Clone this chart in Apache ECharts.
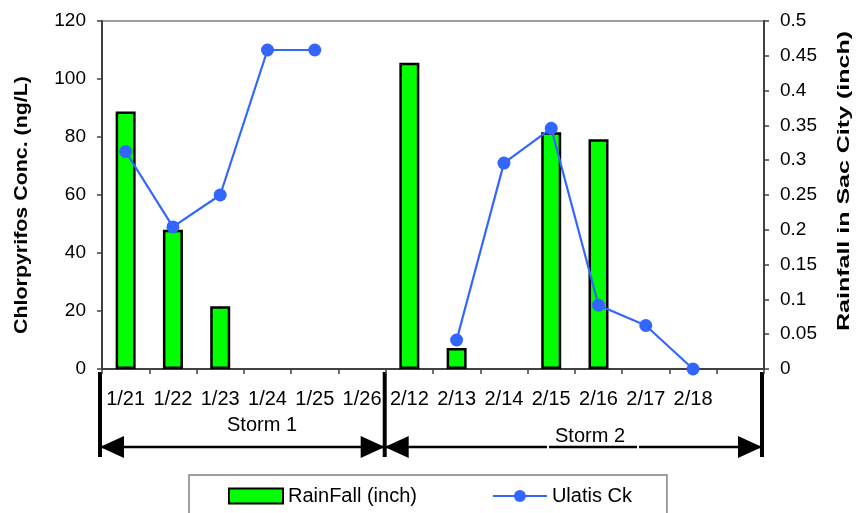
<!DOCTYPE html>
<html>
<head>
<meta charset="utf-8">
<script src="https://cdn.jsdelivr.net/npm/echarts@6/dist/echarts.min.js"></script>
<style>
  html, body { margin: 0; padding: 0; background: #ffffff; }
  #chart { width: 861px; height: 513px; }
</style>
</head>
<body>
<div id="chart"></div>
<script>
// Sampling dates for the two storm events (last slot is an empty spacer)
const categories = ['1/21', '1/22', '1/23', '1/24', '1/25', '1/26',
                    '2/12', '2/13', '2/14', '2/15', '2/16', '2/17', '2/18', ''];
// Daily rainfall in Sacramento (inch), right axis
const rainfall = [0.37, 0.2, 0.09, null, null, null,
                  0.44, 0.03, null, 0.34, 0.33, null, null, null];
// Chlorpyrifos concentration at Ulatis Creek (ng/L), left axis
const ulatisCk = [75, 49, 60, 110, 110, null,
                  null, 10, 71, 83, 22, 15, 0, null];
// Axis ranges
const concAxis = { min: 0, max: 120, interval: 20 };
const rainAxis = { min: 0, max: 0.5, interval: 0.05 };
// Storm spans, given as category index ranges [start, end)
const storms = [
  { name: 'Storm 1', from: 0, to: 6 },
  { name: 'Storm 2', from: 6, to: 14 }
];

const FONT = '"Liberation Sans", Arial, sans-serif';
const W = 861, H = 513;
const plot = { left: 102, right: 764, top: 21, bottom: 369 };
const catW = (plot.right - plot.left) / categories.length;

const chart = echarts.init(document.getElementById('chart'), null, { renderer: 'canvas' });

// Bracket arrows under the date axis marking each storm
function stormGraphics() {
  const els = [];
  const yTop = 372, yBot = 457, yArrow = 447, head = 24, half = 11;
  const edges = [plot.left - 2, plot.left + 6 * catW - 1, plot.right - 2];
  edges.forEach(function (x) {
    els.push({ type: 'rect', shape: { x: x - 2, y: yTop, width: 4, height: yBot - yTop },
               style: { fill: '#000' } });
  });
  const spans = [[edges[0], edges[1]], [edges[1], edges[2]]];
  // Storm 1 arrow line
  els.push({ type: 'line', shape: { x1: spans[0][0], y1: yArrow, x2: spans[0][1], y2: yArrow },
             style: { stroke: '#000', lineWidth: 2.5 } });
  // Storm 2 arrow line, broken slightly around its label
  [[spans[1][0], 547], [549, 637], [639, spans[1][1]]].forEach(function (s) {
    els.push({ type: 'line', shape: { x1: s[0], y1: yArrow, x2: s[1], y2: yArrow },
               style: { stroke: '#000', lineWidth: 2.5 } });
  });
  spans.forEach(function (s) {
    els.push({ type: 'polygon', shape: { points: [[s[0], yArrow], [s[0] + head, yArrow - half], [s[0] + head, yArrow + half]] },
               style: { fill: '#000' } });
    els.push({ type: 'polygon', shape: { points: [[s[1], yArrow], [s[1] - head, yArrow - half], [s[1] - head, yArrow + half]] },
               style: { fill: '#000' } });
  });
  els.push({ type: 'text', x: 262, y: 425,
             style: { text: storms[0].name, font: '20px ' + FONT, fill: '#000', align: 'center', verticalAlign: 'middle' } });
  els.push({ type: 'text', x: 590, y: 436,
             style: { text: storms[1].name, font: '20px ' + FONT, fill: '#000', align: 'center', verticalAlign: 'middle' } });
  return els;
}

// Rotated axis titles
function axisTitles() {
  return [
    { type: 'text', x: 22, y: 205, rotation: Math.PI / 2, scaleX: 1.07, scaleY: 0.95,
      style: { text: 'Chlorpyrifos Conc. (ng/L)', font: 'bold 20px ' + FONT, fill: '#000',
               align: 'center', verticalAlign: 'middle' } },
    { type: 'text', x: 845, y: 181, rotation: Math.PI / 2, scaleX: 1.25, scaleY: 0.78,
      style: { text: 'Rainfall in Sac City (inch)', font: 'bold 20px ' + FONT, fill: '#000',
               align: 'center', verticalAlign: 'middle' } }
  ];
}

const axisLineStyle = { color: '#404040', width: 2 };
const tickStyle = { color: '#404040', width: 1.5 };

chart.setOption({
  animation: false,
  backgroundColor: '#ffffff',
  textStyle: { fontFamily: FONT },
  grid: {
    left: plot.left, right: W - plot.right, top: plot.top, bottom: H - plot.bottom,
    show: true, borderColor: '#808080', borderWidth: 1.5, backgroundColor: 'transparent',
    containLabel: false
  },
  legend: {
    data: [{ name: 'RainFall (inch)', icon: 'rect' }, { name: 'Ulatis Ck' }],
    orient: 'horizontal',
    left: 189, top: 475,
    itemWidth: 54, itemHeight: 15, itemGap: 75,
    padding: [11, 35, 14, 39],
    borderColor: '#808080', borderWidth: 1.5,
    textStyle: { fontSize: 20, color: '#000', fontFamily: FONT }
  },
  xAxis: {
    type: 'category',
    data: categories,
    boundaryGap: true,
    axisLine: { show: true, lineStyle: axisLineStyle },
    axisTick: { show: true, inside: false, length: 5, lineStyle: tickStyle },
    axisLabel: { interval: 0, fontSize: 20, color: '#000', margin: 20, fontFamily: FONT },
    splitLine: { show: false }
  },
  yAxis: [
    {
      type: 'value', position: 'left',
      min: concAxis.min, max: concAxis.max, interval: concAxis.interval,
      axisLine: { show: true, lineStyle: axisLineStyle },
      axisTick: { show: true, inside: false, length: 5, lineStyle: tickStyle },
      axisLabel: { fontSize: 19, color: '#000', margin: 16, fontFamily: FONT },
      splitLine: { show: false }
    },
    {
      type: 'value', position: 'right',
      min: rainAxis.min, max: rainAxis.max, interval: rainAxis.interval,
      axisLine: { show: true, lineStyle: axisLineStyle },
      axisTick: { show: true, inside: false, length: 5, lineStyle: tickStyle },
      axisLabel: { fontSize: 19, color: '#000', margin: 16, fontFamily: FONT },
      splitLine: { show: false }
    }
  ],
  series: [
    {
      name: 'RainFall (inch)',
      type: 'bar',
      yAxisIndex: 1,
      data: rainfall,
      barWidth: 20,
      itemStyle: { color: '#00ff00', borderColor: '#000000', borderWidth: 2.5 },
      z: 2
    },
    {
      name: 'Ulatis Ck',
      type: 'line',
      yAxisIndex: 0,
      data: ulatisCk,
      connectNulls: false,
      symbol: 'circle',
      symbolSize: 13,
      color: '#3366ff',
      itemStyle: { color: '#3366ff' },
      lineStyle: { color: '#3366ff', width: 2.2 },
      z: 3
    }
  ],
  graphic: axisTitles().concat(stormGraphics())
});
</script>
</body>
</html>
